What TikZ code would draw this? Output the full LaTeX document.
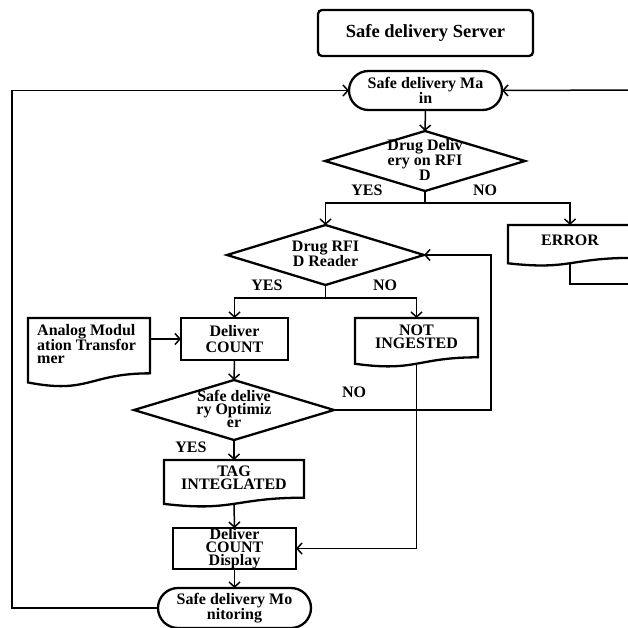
\documentclass[tikz,border=0pt]{standalone}
\usepackage{fontspec}
\setmainfont{Liberation Serif}
\usetikzlibrary{arrows.meta,calc,shapes.geometric}
\newcommand\fz[1]{\fontsize{16}{#1}\selectfont\bfseries}
\newcommand\docpath[1]{\draw[boxline] (#1.north west) -- (#1.north east) -- ($(#1.north east)!0.802!(#1.south east)$) .. controls ($(#1.north)!0.802!(#1.south)$) and ($(#1.north)!1.107!(#1.south)$) .. ($(#1.north west)!0.934!(#1.south west)$) -- cycle;}
\begin{document}
\begin{tikzpicture}[x=1pt,y=-1pt,
  conn/.style={line width=1.5pt},
  arr/.style={conn,-{Straight Barb[length=5pt,width=11pt,line width=1.5pt]}},
  boxline/.style={line width=2.3pt,line join=miter},
  txt/.style={inner sep=0pt,align=center,font=\fz{#1}},
  txt/.default=14,
  procbox/.style={draw,boxline,rectangle,inner sep=0pt,outer sep=0pt,align=center},
  term/.style={procbox,rounded corners=19.5pt},
  dec/.style={draw,boxline,diamond,inner sep=0pt,outer sep=0pt},
  docbox/.style={rectangle,inner sep=0pt,outer sep=0pt},
  lab/.style={inner sep=0pt,font=\fz{16}}
]
\useasboundingbox (0,0) rectangle (628,628);
\fill[white] (0,0) rectangle (628,628);

% nodes
\node[procbox,rounded corners=4pt,minimum width=215pt,minimum height=46pt,font=\fontsize{18.5}{18}\selectfont\bfseries] (server) at (425.5,33) {Safe delivery Server};
\node[term,minimum width=153pt,minimum height=39pt,font=\fz{14}] (main) at (425.5,90.5) {Safe delivery Ma\\in};

\node[dec,minimum width=200pt,minimum height=60pt] (d1) at (425,161) {};
\node[txt=13] (d1t) at (425,160) {Drug Deliv\\ery on RFI\\D};

\node[dec,minimum width=197pt,minimum height=60pt] (d2) at (325.5,255) {};
\node[txt=15] (d2t) at (325.5,254) {Drug RFI\\D Reader};

\node[docbox,minimum width=124pt,minimum height=41pt] (error) at (570,245.5) {};
\docpath{error}
\node[txt] (errort) at (570,240.5) {ERROR};

\node[docbox,minimum width=122pt,minimum height=69pt] (an) at (89,352.5) {};
\docpath{an}
\node[inner sep=0pt,align=left,font=\fz{13},anchor=west] (ant) at (37,344) {Analog Modul\\ation Transfor\\mer};

\node[procbox,minimum width=107pt,minimum height=42pt,font=\fz{16}] (dc) at (234.5,339) {Deliver\\COUNT};

\node[docbox,minimum width=123pt,minimum height=49pt] (ni) at (416.5,342.5) {};
\docpath{ni}
\node[txt=13] (nit) at (416.5,337) {NOT\\INGESTED};

\node[dec,minimum width=200pt,minimum height=60pt] (d3) at (234,410) {};
\node[txt=13] (d3t) at (234,408.5) {Safe delive\\ry Optimiz\\er};

\node[docbox,minimum width=140pt,minimum height=47pt] (tag) at (234,483.5) {};
\docpath{tag}
\node[txt=13] (tagt) at (234,478) {TAG\\INTEGLATED};

\node[procbox,minimum width=123pt,minimum height=41pt,font=\fz{13}] (disp) at (234.5,548.5) {Deliver\\COUNT\\Display};

\node[term,rounded corners=20pt,minimum width=153pt,minimum height=40pt,font=\fz{13}] (mon) at (234.5,608) {Safe delivery Mo\\nitoring};

% labels
\node[lab] (y1) at (367,190) {YES};
\node[lab] (n1) at (485,190) {NO};
\node[lab] (y2) at (267,285) {YES};
\node[lab] (n2) at (385,285) {NO};
\node[lab] (n3) at (354,392) {NO};
\node[lab] (y3) at (191,447) {YES};

% helper coordinates
\coordinate (br1) at (425,203);
\coordinate (br2) at (325.5,298);
\coordinate (rin) at (640,90);
\coordinate (errout) at (640,284);
\coordinate (lp) at (12,0);
\coordinate (fb) at (491,0);

% connectors
\draw[arr] (main.south) -- (d1.north);
\draw[conn] (d1.south) -- (br1);
\draw[arr] (br1) -| (d2.north);
\draw[arr] (br1) -| (error.north);
\draw[conn] ($(error.north)!0.933!(error.south)$) |- (errout);
\draw[arr] (rin) -- (main.east);
\draw[arr] (mon.west) -- (mon.west -| lp) -- (main.west -| lp) -- (main.west);
\draw[conn] (d2.south) -- (br2);
\draw[arr] (br2) -| (dc.north);
\draw[arr] (br2) -| (ni.north);
\draw[arr] (dc.west -| an.east) -- (dc.west);
\draw[arr] (dc.south) -- (d3.north);
\draw[arr] (d3.east) -- (d3.east -| fb) -- (d2.east -| fb) -- (d2.east);
\draw[arr] (d3.south) -- (tag.north);
\draw[arr] ($(tag.north)!0.933!(tag.south)$) -- (disp.north);
\draw[arr] ($(ni.north)!0.933!(ni.south)$) |- (disp.east);
\draw[arr] (disp.south) -- (mon.north);
\end{tikzpicture}
\end{document}
